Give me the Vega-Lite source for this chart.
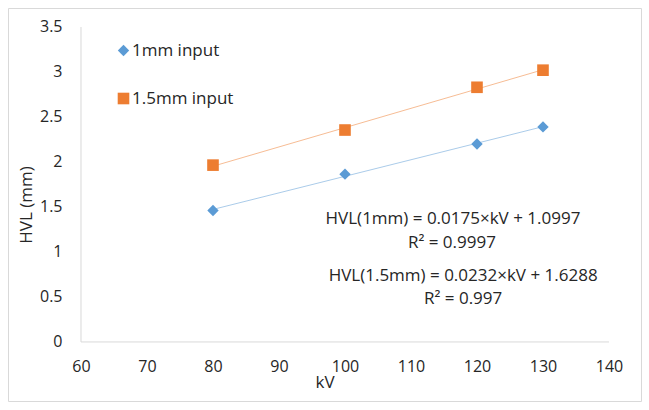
{
  "$schema": "https://vega.github.io/schema/vega-lite/v6.json",
  "width": 633,
  "height": 393,
  "autosize": {"type": "none"},
  "padding": {"left": 8, "top": 8, "right": 8, "bottom": 9},
  "background": "white",
  "config": {
    "font": "Open Sans",
    "view": {"stroke": "#d9d9d9", "strokeWidth": 1},
    "axis": {"grid": false, "domain": false, "ticks": false, "labelColor": "#262626", "titleColor": "#262626", "labelFontWeight": "normal", "titleFontWeight": "normal"}
  },
  "data": {
    "values": [
      {"series": "1mm input", "kv": 80, "hvl": 1.46},
      {"series": "1mm input", "kv": 100, "hvl": 1.865},
      {"series": "1mm input", "kv": 120, "hvl": 2.2},
      {"series": "1mm input", "kv": 130, "hvl": 2.39},
      {"series": "1.5mm input", "kv": 80, "hvl": 1.965},
      {"series": "1.5mm input", "kv": 100, "hvl": 2.355},
      {"series": "1.5mm input", "kv": 120, "hvl": 2.83},
      {"series": "1.5mm input", "kv": 130, "hvl": 3.02}
    ]
  },
  "encoding": {
    "x": {"type": "quantitative", "scale": {"domain": [48.94, 144.85], "nice": false, "zero": false}},
    "y": {"type": "quantitative", "scale": {"domain": [-0.656, 3.711], "nice": false, "zero": false}}
  },
  "layer": [
    {
      "data": {"values": [{}]},
      "mark": {"type": "rule", "color": "#d9d9d9", "strokeWidth": 1},
      "encoding": {"x": {"datum": 60, "type": "quantitative"}, "y": {"datum": 0, "type": "quantitative"}, "y2": {"datum": 3.5}}
    },
    {
      "data": {"values": [{}]},
      "mark": {"type": "rule", "color": "#d9d9d9", "strokeWidth": 1},
      "encoding": {"x": {"datum": 60, "type": "quantitative"}, "x2": {"datum": 140}, "y": {"datum": 0, "type": "quantitative"}}
    },
    {
      "transform": [{"regression": "hvl", "on": "kv", "groupby": ["series"], "extent": [80, 130]}],
      "mark": {"type": "line", "strokeWidth": 0.8, "strokeOpacity": 0.65},
      "encoding": {
        "x": {"field": "kv", "type": "quantitative"},
        "y": {"field": "hvl", "type": "quantitative"},
        "color": {"field": "series", "type": "nominal"}
      }
    },
    {
      "mark": {"type": "point", "filled": true, "opacity": 1},
      "encoding": {
        "x": {"field": "kv", "type": "quantitative", "axis": {"values": [60, 70, 80, 90, 100, 110, 120, 130, 140], "format": "d", "title": "kV", "offset": -59, "labelPadding": 16, "labelFontSize": 16, "titleFontSize": 17, "titlePadding": 0}},
        "y": {"field": "hvl", "type": "quantitative", "axis": {"values": [0, 0.5, 1, 1.5, 2, 2.5, 3, 3.5], "format": "~g", "title": "HVL (mm)", "offset": -73, "labelPadding": 19, "labelFontSize": 16, "titleFontSize": 17, "titlePadding": 4}},
        "color": {"field": "series", "type": "nominal", "scale": {"domain": ["1mm input", "1.5mm input"], "range": ["#5B9BD5", "#ED7D31"]},
          "legend": {"title": null, "orient": "none", "legendX": 107, "legendY": 34, "padding": 0, "labelFontSize": 17, "labelColor": "#262626", "symbolSize": 130, "rowPadding": 30, "labelOffset": 0, "symbolStrokeWidth": 0, "symbolOpacity": 1}},
        "shape": {"field": "series", "type": "nominal", "scale": {"domain": ["1mm input", "1.5mm input"], "range": ["diamond", "square"]}},
        "size": {"field": "series", "type": "nominal", "scale": {"domain": ["1mm input", "1.5mm input"], "range": [130, 135]}, "legend": null}
      }
    },
    {
      "data": {"values": [{}]},
      "mark": {"type": "text", "text": "HVL(1mm) = 0.0175×kV + 1.0997", "fontSize": 17, "align": "center", "baseline": "middle", "color": "#262626"},
      "encoding": {"x": {"datum": 116.36, "type": "quantitative"}, "y": {"datum": 1.367, "type": "quantitative"}}
    },
    {
      "data": {"values": [{}]},
      "mark": {"type": "text", "text": "R² = 0.9997", "fontSize": 17, "align": "center", "baseline": "middle", "color": "#262626"},
      "encoding": {"x": {"datum": 116.2, "type": "quantitative"}, "y": {"datum": 1.1, "type": "quantitative"}}
    },
    {
      "data": {"values": [{}]},
      "mark": {"type": "text", "text": "HVL(1.5mm) = 0.0232×kV + 1.6288", "fontSize": 17, "align": "center", "baseline": "middle", "color": "#262626"},
      "encoding": {"x": {"datum": 117.9, "type": "quantitative"}, "y": {"datum": 0.733, "type": "quantitative"}}
    },
    {
      "data": {"values": [{}]},
      "mark": {"type": "text", "text": "R² = 0.997", "fontSize": 17, "align": "center", "baseline": "middle", "color": "#262626"},
      "encoding": {"x": {"datum": 117.9, "type": "quantitative"}, "y": {"datum": 0.478, "type": "quantitative"}}
    }
  ]
}
